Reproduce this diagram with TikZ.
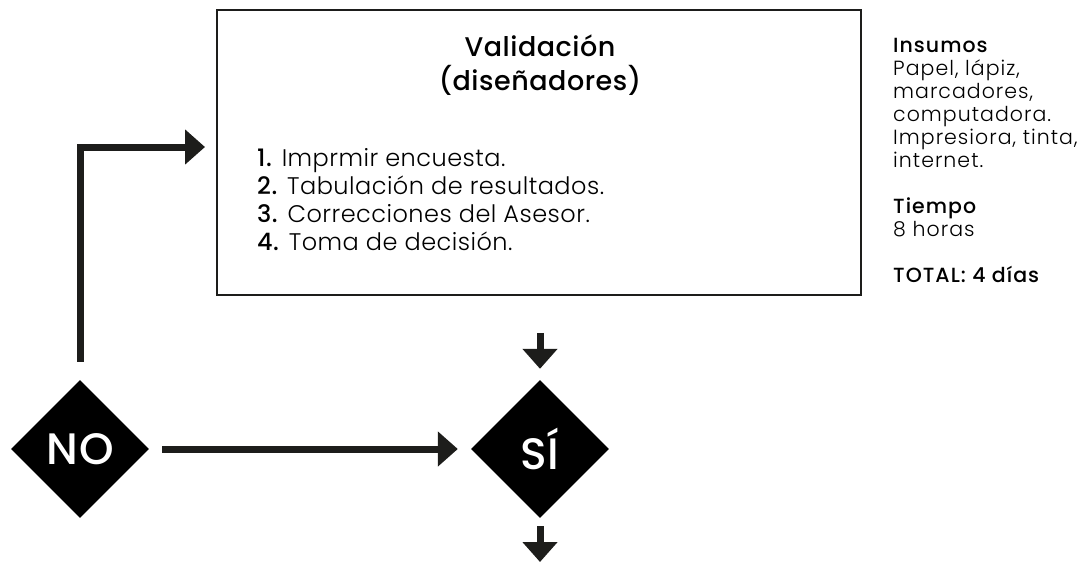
\documentclass[tikz,border=0pt]{standalone}
\usepackage{fontspec}
\setmainfont{Poppins Light}[BoldFont={Poppins Medium}, LetterSpace=2]
\usetikzlibrary{shapes.geometric,arrows.meta,calc}
\definecolor{negro}{HTML}{1D1D1B}

\begin{document}
\begin{tikzpicture}[x=1pt, y=-1pt, line join=miter, >={Triangle[length=20pt,width=34pt]}]
  % styles
  \tikzset{
    caja/.style={draw=negro, line width=1.5pt, minimum width=644pt, minimum height=285pt, inner sep=0pt},
    decision/.style={diamond, fill=black, text=white, minimum width=138pt, minimum height=138pt, inner sep=0pt, font=\bfseries\fontsize{44}{44}\selectfont},
    flecha/.style={->, line width=7pt, draw=negro},
    titulo/.style={align=center, font=\bfseries\fontsize{27}{34}\selectfont},
    lista/.style={align=left, anchor=west, inner sep=0pt, font=\fontsize{24}{28}\selectfont},
    notas/.style={align=left, anchor=north west, inner sep=0pt, font=\addfontfeatures{LetterSpace=5}\fontsize{20.5}{23}\selectfont}
  }

  \useasboundingbox (0,0) rectangle (1092,563);

  % ----- box and decisions -----
  \node[caja] (val) at (539,152.5) {};
  \node[decision] (no) at (80,449) {NO};
  \node[decision] (si) at (540,449) {SÍ};

  % ----- texts -----
  \node[titulo] (tit) at (540,65) {Validación\\(diseñadores)};
  \node[lista] (pasos) at (257,200) {\textbf{1.} Imprmir encuesta.\\
    \textbf{2.} Tabulación de resultados.\\
    \textbf{3.} Correcciones del Asesor.\\
    \textbf{4.} Toma de decisión.};
  \node[notas] (ins) at (893,38) {\textbf{Insumos}\\Papel, lápiz,\\marcadores,\\computadora.\\
    Impresiora, tinta,\\internet.\\[23pt]
    \textbf{Tiempo}\\8 horas\\[23pt]
    \textbf{TOTAL: 4 días}};

  % ----- free ends -----
  \coordinate (entrada) at (205,147);
  \coordinate (fin) at (540,562);

  % ----- arrows -----
  \draw[flecha] ([yshift=18pt]no.north) |- (entrada);
  \draw[flecha] ([xshift=13pt]no.east) -- ([xshift=-13pt]si.west);
  \draw[flecha] ($(val.south -| si.north)+(0,37)$) -- ([yshift=11pt]si.north);
  \draw[flecha] ([yshift=-8pt]si.south) -- (fin);
\end{tikzpicture}
\end{document}
